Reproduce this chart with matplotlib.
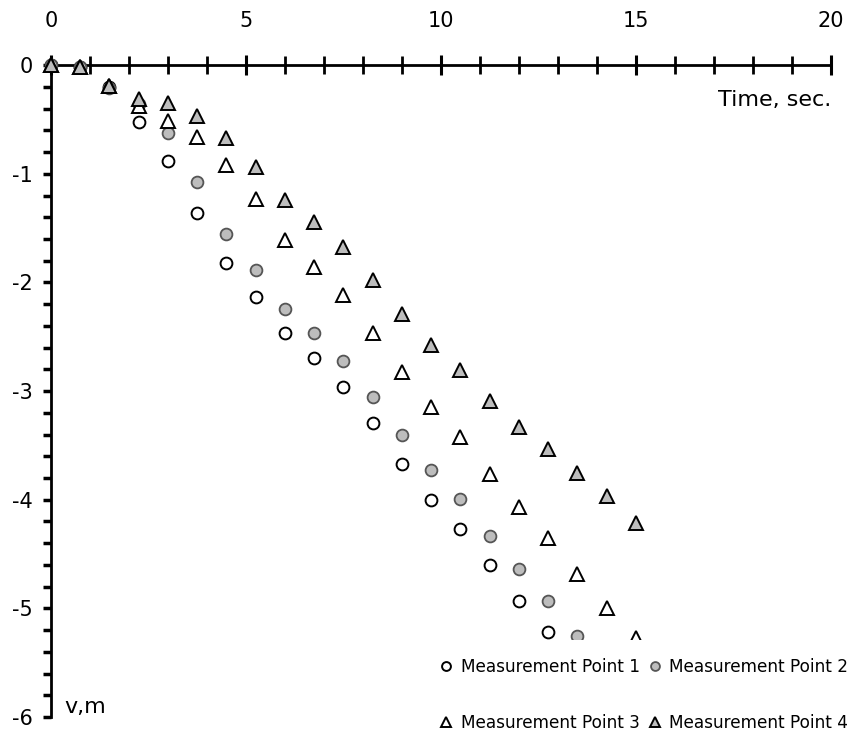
import matplotlib
matplotlib.use("Agg")
import matplotlib.pyplot as plt
from matplotlib.ticker import MultipleLocator
from matplotlib.patches import Rectangle

plt.rcParams['font.family'] = ['DejaVu Sans']
plt.rcParams['axes.unicode_minus'] = False

# time steps (s)
t = [0.75 * i for i in range(21)]

# (points hidden behind the legend are left out)
mp1 = [0, -0.02, -0.2, -0.52, -0.88, -1.36, -1.82, -2.13, -2.47, -2.70,
       -2.96, -3.29, -3.67, -4.00, -4.27, -4.60, -4.93, -5.22]
mp2 = [0, -0.02, -0.21, -0.36, -0.62, -1.08, -1.55, -1.89, -2.24, -2.47,
       -2.72, -3.05, -3.40, -3.73, -3.99, -4.33, -4.64, -4.93, -5.25]
mp3 = [0, -0.02, -0.19, -0.38, -0.51, -0.66, -0.92, -1.23, -1.61, -1.86,
       -2.12, -2.47, -2.82, -3.15, -3.42, -3.76, -4.07, -4.35, -4.68, -5.00, -5.27]
mp4 = [0, -0.02, -0.19, -0.31, -0.35, -0.47, -0.67, -0.94, -1.24, -1.44,
       -1.67, -1.98, -2.29, -2.58, -2.81, -3.09, -3.33, -3.53, -3.75, -3.97, -4.21]

labels = ["Measurement Point 1", "Measurement Point 2",
          "Measurement Point 3", "Measurement Point 4"]

fig = plt.figure(figsize=(8.5, 7.32), dpi=100)
ax = fig.add_axes([0.06, 0.0205, 0.9176, 0.8905])

gray = "#bdbdbd"
h1, = ax.plot(t[:len(mp1)], mp1, ls="none", marker="o", ms=8.5, mfc="white",
              mec="black", mew=1.4, zorder=3)
h2, = ax.plot(t[:len(mp2)], mp2, ls="none", marker="o", ms=8.5, mfc=gray,
              mec="#555555", mew=1.3, zorder=3)
h3, = ax.plot(t[:len(mp3)], mp3, ls="none", marker="^", ms=10, mfc="white",
              mec="black", mew=1.4, zorder=3)
h4, = ax.plot(t[:len(mp4)], mp4, ls="none", marker="^", ms=10, mfc=gray,
              mec="black", mew=1.4, zorder=3)

# plot area ends just above the legend, markers at the origin stay whole
clip = Rectangle((-0.05, (6 - 5.28) / 6), 1.1, 1.0, transform=ax.transAxes)
for h in (h1, h2, h3, h4):
    h.set_clip_path(clip)

ax.set_xlim(0, 20)
ax.set_ylim(-6, 0)

ax.spines['right'].set_visible(False)
ax.spines['bottom'].set_visible(False)
ax.spines['top'].set_linewidth(2)
ax.spines['left'].set_linewidth(2)

ax.xaxis.tick_top()
ax.xaxis.set_major_locator(MultipleLocator(5))
ax.xaxis.set_minor_locator(MultipleLocator(1))
ax.yaxis.set_major_locator(MultipleLocator(1))
ax.yaxis.set_minor_locator(MultipleLocator(0.2))
ax.tick_params(axis='x', which='major', direction='inout', length=15, width=2.2,
               labelsize=15, pad=17)
ax.tick_params(axis='x', which='minor', direction='inout', length=13, width=2)
ax.tick_params(axis='y', which='both', direction='out', length=6, width=2.5,
               labelsize=15, pad=7)

ax.text(20, -0.23, "Time, sec.", ha="right", va="top", fontsize=16)
ax.text(0.35, -6, "v,m", ha="left", va="bottom", fontsize=16)

leg = fig.legend([h1, h3, h2, h4], [labels[0], labels[2], labels[1], labels[3]],
                 ncol=2, loc="lower right", bbox_to_anchor=(1.008, -0.012),
                 frameon=False, fontsize=12.2, markerscale=0.75,
                 handlelength=0.8, handletextpad=0.45, columnspacing=0.5,
                 labelspacing=2.25, borderpad=0.0)

fig.savefig("out.png", dpi=100)
